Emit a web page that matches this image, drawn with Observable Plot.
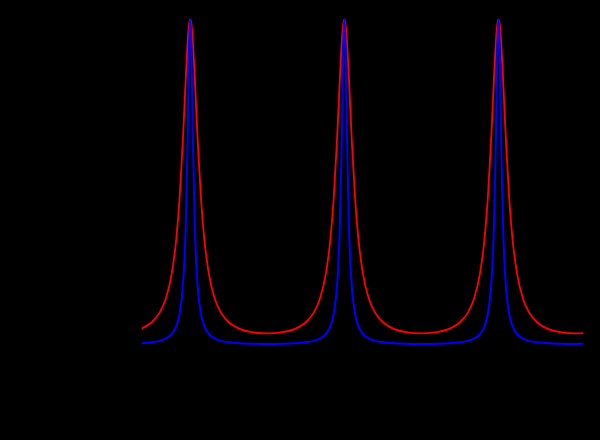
<!DOCTYPE html>
<html>
<head>
<meta charset="utf-8">
<script src="https://cdn.jsdelivr.net/npm/d3@7"></script>
<script src="https://cdn.jsdelivr.net/npm/@observablehq/plot@0.6"></script>
<style>
  html, body { margin: 0; padding: 0; background: #000; }
  #chart { width: 600px; height: 440px; background: #000; }
</style>
</head>
<body>
<div id="chart"></div>
<script>
// Phase (in units of 2π) at which each sample was read
const phase = [
  0.69, 0.75, 0.8, 0.84, 0.88, 0.91, 0.93, 0.95, 0.96, 0.97, 0.98, 0.985, 0.99, 0.995,
  1, 1.005, 1.01, 1.015, 1.02, 1.03, 1.04, 1.05, 1.07, 1.09, 1.12, 1.16, 1.2, 1.25,
  1.3, 1.4, 1.5, 1.6, 1.7,
  1.75, 1.8, 1.84, 1.88, 1.91, 1.93, 1.95, 1.96, 1.97, 1.98, 1.985, 1.99, 1.995,
  2, 2.005, 2.01, 2.015, 2.02, 2.03, 2.04, 2.05, 2.07, 2.09, 2.12, 2.16, 2.2, 2.25,
  2.3, 2.4, 2.5, 2.6, 2.7,
  2.75, 2.8, 2.84, 2.88, 2.91, 2.93, 2.95, 2.96, 2.97, 2.98, 2.985, 2.99, 2.995,
  3, 3.005, 3.01, 3.015, 3.02, 3.03, 3.04, 3.05, 3.07, 3.09, 3.12, 3.16, 3.2, 3.25,
  3.3, 3.4, 3.5, 3.545
];

// Transmission, lower finesse (red)
const redT = [
  0.0532, 0.0714, 0.100, 0.142, 0.221, 0.331, 0.447, 0.611, 0.710, 0.813, 0.907, 0.9455, 0.975, 0.9936,
  1, 0.9936, 0.975, 0.9455, 0.907, 0.813, 0.710, 0.611, 0.447, 0.331, 0.221, 0.142, 0.100, 0.0714,
  0.0555, 0.0408, 0.0370, 0.0408, 0.0555,
  0.0714, 0.100, 0.142, 0.221, 0.331, 0.447, 0.611, 0.710, 0.813, 0.907, 0.9455, 0.975, 0.9936,
  1, 0.9936, 0.975, 0.9455, 0.907, 0.813, 0.710, 0.611, 0.447, 0.331, 0.221, 0.142, 0.100, 0.0714,
  0.0555, 0.0408, 0.0370, 0.0408, 0.0555,
  0.0714, 0.100, 0.142, 0.221, 0.331, 0.447, 0.611, 0.710, 0.813, 0.907, 0.9455, 0.975, 0.9936,
  1, 0.9936, 0.975, 0.9455, 0.907, 0.813, 0.710, 0.611, 0.447, 0.331, 0.221, 0.142, 0.100, 0.0714,
  0.0555, 0.0408, 0.0370, 0.0378
];

// Transmission, higher finesse (blue)
const blueT = [
  0.00726, 0.0099, 0.0143, 0.0211, 0.0356, 0.0604, 0.0951, 0.170, 0.241, 0.361, 0.559, 0.693, 0.835, 0.953,
  1, 0.953, 0.835, 0.693, 0.559, 0.361, 0.241, 0.170, 0.0951, 0.0604, 0.0356, 0.0211, 0.0143, 0.0099,
  0.00758, 0.0055, 0.00498, 0.0055, 0.00758,
  0.0099, 0.0143, 0.0211, 0.0356, 0.0604, 0.0951, 0.170, 0.241, 0.361, 0.559, 0.693, 0.835, 0.953,
  1, 0.953, 0.835, 0.693, 0.559, 0.361, 0.241, 0.170, 0.0951, 0.0604, 0.0356, 0.0211, 0.0143, 0.0099,
  0.00758, 0.0055, 0.00498, 0.0055, 0.00758,
  0.0099, 0.0143, 0.0211, 0.0356, 0.0604, 0.0951, 0.170, 0.241, 0.361, 0.559, 0.693, 0.835, 0.953,
  1, 0.953, 0.835, 0.693, 0.559, 0.361, 0.241, 0.170, 0.0951, 0.0604, 0.0356, 0.0211, 0.0143, 0.0099,
  0.00758, 0.0055, 0.00498, 0.00508
];

const red = phase.map((x, i) => ({x, y: redT[i]}));
const blue = phase.map((x, i) => ({x, y: blueT[i]}));

const chart = Plot.plot({
  width: 600,
  height: 440,
  marginLeft: 142,
  marginRight: 18,
  marginTop: 19,
  marginBottom: 95,
  style: {background: "#000", color: "#000"},
  x: {domain: [0.69, 3.545], axis: null},
  y: {domain: [0, 1], axis: null},
  marks: [
    Plot.line(red, {x: "x", y: "y", stroke: "#ff0000", strokeWidth: 1.8, curve: "monotone-x"}),
    Plot.line(blue, {x: "x", y: "y", stroke: "#0000ff", strokeWidth: 2, curve: "monotone-x"})
  ]
});
document.getElementById("chart").appendChild(chart);
</script>
</body>
</html>
